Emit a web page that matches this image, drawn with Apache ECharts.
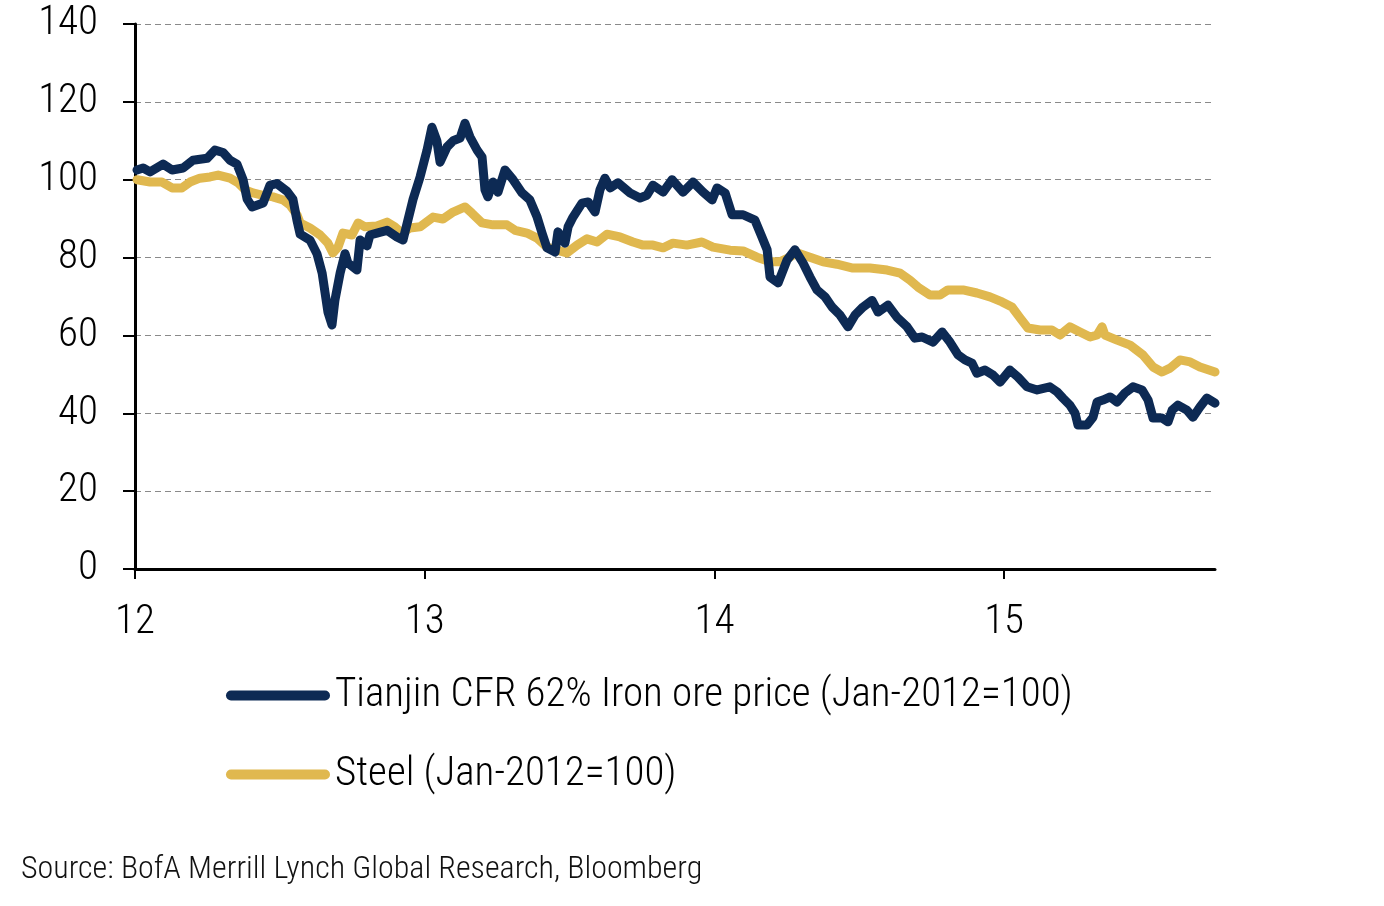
<!DOCTYPE html>
<html>
<head>
<meta charset="utf-8">
<script src="https://cdn.jsdelivr.net/npm/echarts@6/dist/echarts.min.js"></script>
<style>
html,body{margin:0;padding:0;background:#fff;}
#chart{width:1384px;height:906px;}
</style>
</head>
<body>
<div id="chart"></div>
<script>
// Decimal years (12 = Jan 2012) and index values (Jan-2012 = 100)
const ironTimes = [12.007,12.028,12.052,12.097,12.128,12.166,12.200,12.249,12.276,12.304,12.328,12.352,12.373,12.387,12.404,12.442,12.466,12.490,12.525,12.545,12.559,12.570,12.604,12.628,12.646,12.656,12.666,12.680,12.690,12.708,12.725,12.735,12.766,12.777,12.801,12.811,12.835,12.870,12.904,12.925,12.960,12.984,13.008,13.025,13.042,13.053,13.077,13.098,13.122,13.139,13.156,13.181,13.198,13.208,13.218,13.236,13.253,13.277,13.305,13.336,13.363,13.388,13.405,13.422,13.450,13.460,13.484,13.495,13.512,13.543,13.564,13.588,13.605,13.622,13.640,13.667,13.709,13.743,13.767,13.788,13.823,13.854,13.892,13.926,13.961,13.992,14.009,14.037,14.061,14.099,14.140,14.164,14.182,14.192,14.220,14.251,14.278,14.306,14.330,14.354,14.382,14.406,14.434,14.461,14.485,14.513,14.544,14.565,14.599,14.630,14.665,14.692,14.717,14.755,14.786,14.813,14.841,14.865,14.889,14.906,14.934,14.962,14.986,15.020,15.048,15.079,15.114,15.158,15.183,15.203,15.227,15.245,15.255,15.286,15.307,15.321,15.341,15.366,15.390,15.417,15.445,15.476,15.497,15.514,15.545,15.566,15.580,15.600,15.631,15.652,15.676,15.700,15.728];
const ironValues = [102.5,103,102,104,102.5,103,105,105.5,107.6,107,105,104,100,95,93,94,98.6,99,97,95,89.6,86,84.5,81,76,71,66,62.7,69,76,81,78.6,76.8,84.5,83,85.8,86.3,87,85.3,84.5,95,100.7,107.6,113.5,110,104.5,108.4,110,110.7,114.5,111,107.6,105.8,97.4,95.6,99.4,96.8,102.5,100,96.6,94.8,90.4,86.3,82.5,81.4,86.6,83.7,87.9,90.4,94,94.3,91.7,97.4,100.4,97.9,99.2,96.6,95.3,96,98.6,96.8,100,96.8,99.4,96.8,94.8,97.9,96.6,91,91,89.6,85.3,82,75,73.5,79.4,82,78.6,75,71.7,69.9,67.3,65.2,62.2,65.2,67.3,69,66,67.8,64.7,62.2,59.3,59.6,58.3,60.9,58.3,55,53.7,52.9,50.3,51.1,49.8,48,51.1,49.3,46.8,46,46.8,45.5,43.9,42.1,40,37,37,39,42.9,43.4,44.2,42.9,45.2,46.8,46,43.4,38.8,38.8,37.8,40.8,42.1,40.8,39,41.6,43.9,42.6];

const steelTimes = [12.007,12.052,12.093,12.128,12.162,12.190,12.224,12.259,12.287,12.328,12.356,12.380,12.407,12.442,12.476,12.511,12.535,12.559,12.570,12.604,12.639,12.666,12.683,12.701,12.718,12.749,12.770,12.794,12.835,12.870,12.897,12.922,12.949,12.984,13.029,13.063,13.098,13.139,13.163,13.198,13.236,13.284,13.312,13.353,13.388,13.422,13.457,13.491,13.526,13.560,13.595,13.629,13.674,13.719,13.754,13.788,13.823,13.857,13.905,13.957,13.995,14.054,14.099,14.147,14.192,14.226,14.254,14.285,14.330,14.375,14.423,14.478,14.537,14.596,14.641,14.675,14.703,14.744,14.779,14.806,14.858,14.906,14.951,14.993,15.027,15.055,15.082,15.124,15.165,15.193,15.227,15.262,15.297,15.321,15.338,15.348,15.390,15.435,15.479,15.514,15.545,15.573,15.607,15.642,15.676,15.728];
const steelValues = [100,99.4,99.4,97.9,97.9,99.4,100.4,100.7,101.2,100.4,99.2,97.4,96.6,96,95.6,94.8,93.5,91,88.9,87.6,85.8,83.7,81.2,82.7,86.3,85.8,88.9,87.9,88.1,89.1,87.9,86.3,87.6,87.9,90.4,89.9,91.7,93,91.4,88.9,88.4,88.4,87,86.3,85,82.7,81.9,81.2,83.2,84.8,84,86,85.3,84,83.2,83.2,82.5,83.7,83.2,84,82.7,81.9,81.7,80.1,78.9,78.9,79.9,81.2,80.1,78.9,78.3,77.3,77.3,76.8,76,74.2,72.4,70.4,70.4,71.7,71.7,70.9,69.9,68.6,67.3,64.5,61.9,61.4,61.4,60.1,62.2,60.9,59.6,60.1,62.2,60.1,58.8,57.5,55,51.9,50.6,51.6,53.7,53.2,51.9,50.6];

const seriesNames = ['Tianjin CFR 62% Iron ore price (Jan-2012=100)', 'Steel (Jan-2012=100)'];
const yTicks = [0, 20, 40, 60, 80, 100, 120, 140];
const xTicks = [12, 13, 14, 15];
const sourceText = 'Source: BofA Merrill Lynch Global Research, Bloomberg';

const FONT = "'Roboto Condensed', 'DejaVu Sans Condensed', sans-serif";
const NAVY = '#0d2a54';
const GOLD = '#e0b84f';

const zip = (a, b) => a.map((t, i) => [t, b[i]]);

const chart = echarts.init(document.getElementById('chart'), null, {renderer: 'canvas'});
chart.setOption({
  animation: false,
  backgroundColor: '#fff',
  grid: {left: 135, right: 169, top: 24, bottom: 337, containLabel: false},
  xAxis: {
    type: 'value', min: 12, max: 15.728, interval: 1,
    axisLine: {show: true, lineStyle: {color: '#000', width: 3}},
    axisTick: {show: true, length: 10, lineStyle: {color: '#000', width: 2},
      customValues: xTicks},
    axisLabel: {fontFamily: FONT, fontWeight: 300, fontSize: 41, color: '#000', margin: 33,
      customValues: xTicks, formatter: v => String(v)},
    splitLine: {show: false}
  },
  yAxis: {
    type: 'value', min: 0, max: 140, interval: 20,
    axisLine: {show: true, lineStyle: {color: '#000', width: 3}},
    axisTick: {show: true, length: 12, lineStyle: {color: '#000', width: 2}},
    axisLabel: {fontFamily: FONT, fontWeight: 300, fontSize: 41, color: '#000', margin: 37,
      formatter: v => yTicks.includes(v) ? String(v) : ''},
    splitLine: {show: true, lineStyle: {color: '#8a8a8a', width: 1, type: [6, 4]}}
  },
  legend: {
    orient: 'vertical', left: 221, top: 670, itemGap: 38,
    itemWidth: 104, itemHeight: 10,
    icon: 'path://M5,0 L99,0 A5,5 0 0 1 99,10 L5,10 A5,5 0 0 1 5,0 Z',
    textStyle: {fontFamily: FONT, fontWeight: 300, fontSize: 41, color: '#000'},
    data: seriesNames
  },
  graphic: [
    {type: 'text', left: 21, top: 854,
     style: {text: sourceText, font: "300 32px " + FONT, fill: '#111'}}
  ],
  series: [
    {
      name: seriesNames[1], type: 'line', data: zip(steelTimes, steelValues),
      showSymbol: false, symbol: 'none', smooth: false, z: 2,
      itemStyle: {color: GOLD},
      lineStyle: {color: GOLD, width: 9, cap: 'round', join: 'round'}
    },
    {
      name: seriesNames[0], type: 'line', data: zip(ironTimes, ironValues),
      showSymbol: false, symbol: 'none', smooth: false, z: 3,
      itemStyle: {color: NAVY},
      lineStyle: {color: NAVY, width: 9, cap: 'round', join: 'round'}
    }
  ]
});
</script>
</body>
</html>
